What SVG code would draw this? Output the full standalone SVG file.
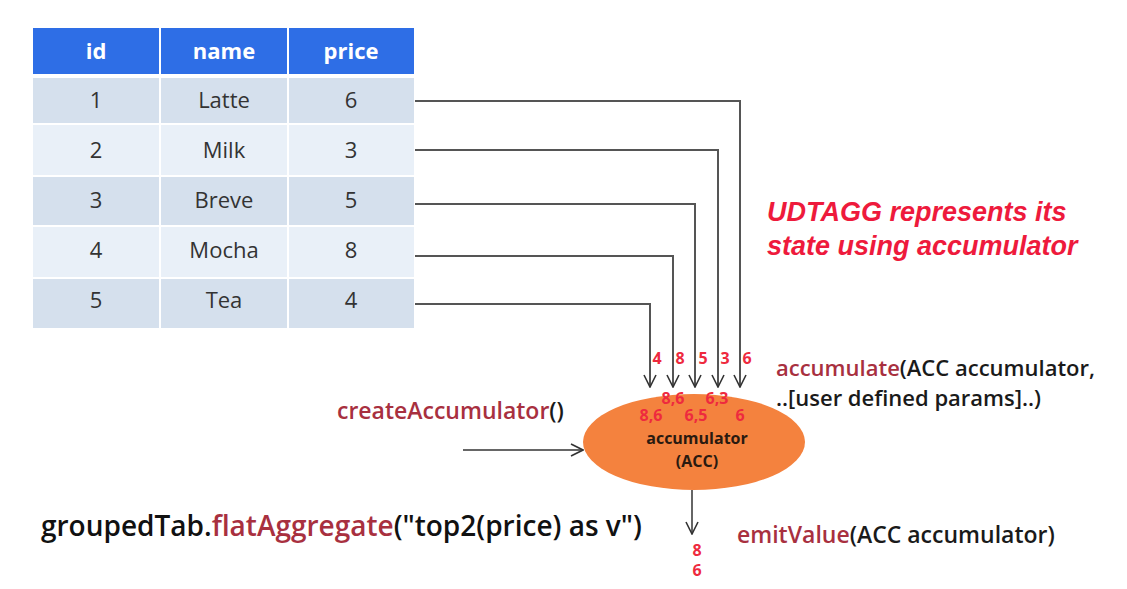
<svg xmlns="http://www.w3.org/2000/svg" width="1127" height="589" viewBox="0 0 1127 589">
<defs>
<marker id="ah" viewBox="0 0 14 14" refX="13" refY="7" markerWidth="14" markerHeight="14" markerUnits="userSpaceOnUse" orient="auto">
<path d="M1,1 L13,7 L1,13" fill="none" stroke="#333" stroke-width="1.6"/>
</marker>
<style>
.hd{fill:#2e6ee6}
.ra{fill:#d5e0ed}
.rb{fill:#e9f0f8}
.ht{font-family:"Open Sans",sans-serif;font-weight:700;font-size:22px;fill:#fff;text-anchor:middle}
.ct{font-family:"Open Sans",sans-serif;font-size:22px;fill:#333;text-anchor:middle}
.ln{fill:none;stroke:#555;stroke-width:2}
.ar{fill:none;stroke:#333;stroke-width:1.5;marker-end:url(#ah)}
.rd{font-family:"Open Sans",sans-serif;font-weight:700;font-size:16px;fill:#ee2a3e;text-anchor:middle}
.fn{font-family:"Open Sans",sans-serif;font-weight:600;font-size:23px;fill:#1a1a1a}
.fn2{font-size:22px}
.fr{fill:#a8303f}
.big{font-family:"Open Sans",sans-serif;font-weight:600;font-size:28px;fill:#111}
.ud{font-family:"Liberation Sans",Arial,sans-serif;font-weight:700;font-style:italic;font-size:27px;fill:#ee1a3c}
.ac{font-family:"Open Sans",sans-serif;font-weight:700;font-size:16px;fill:#2a1a10;text-anchor:middle}
</style>
</defs>
<rect width="1127" height="589" fill="#fff"/>
<g id="table">
<rect class="hd" x="33" y="28" width="126" height="46"/>
<rect class="hd" x="161" y="28" width="126" height="46"/>
<rect class="hd" x="289" y="28" width="125" height="46"/>
<text class="ht" x="96" y="59">id</text>
<text class="ht" x="224" y="59">name</text>
<text class="ht" x="351" y="59">price</text>
<g>
<rect class="ra" x="33" y="78" width="126" height="45"/><rect class="ra" x="161" y="78" width="126" height="45"/><rect class="ra" x="289" y="78" width="125" height="45"/>
<rect class="rb" x="33" y="125" width="126" height="50"/><rect class="rb" x="161" y="125" width="126" height="50"/><rect class="rb" x="289" y="125" width="125" height="50"/>
<rect class="ra" x="33" y="177" width="126" height="48"/><rect class="ra" x="161" y="177" width="126" height="48"/><rect class="ra" x="289" y="177" width="125" height="48"/>
<rect class="rb" x="33" y="227" width="126" height="50"/><rect class="rb" x="161" y="227" width="126" height="50"/><rect class="rb" x="289" y="227" width="125" height="50"/>
<rect class="ra" x="33" y="279" width="126" height="49"/><rect class="ra" x="161" y="279" width="126" height="49"/><rect class="ra" x="289" y="279" width="125" height="49"/>
</g>
<text class="ct" x="96" y="108">1</text><text class="ct" x="224" y="108">Latte</text><text class="ct" x="351" y="108">6</text>
<text class="ct" x="96" y="158">2</text><text class="ct" x="224" y="158">Milk</text><text class="ct" x="351" y="158">3</text>
<text class="ct" x="96" y="208">3</text><text class="ct" x="224" y="208">Breve</text><text class="ct" x="351" y="208">5</text>
<text class="ct" x="96" y="258">4</text><text class="ct" x="224" y="258">Mocha</text><text class="ct" x="351" y="258">8</text>
<text class="ct" x="96" y="308">5</text><text class="ct" x="224" y="308">Tea</text><text class="ct" x="351" y="308">4</text>
</g>
<g id="connectors">
<path class="ln" d="M415,101 H740 V387" marker-end="url(#ah)"/>
<path class="ln" d="M415,150 H718 V387" marker-end="url(#ah)"/>
<path class="ln" d="M415,204 H695 V387" marker-end="url(#ah)"/>
<path class="ln" d="M415,256 H673 V387" marker-end="url(#ah)"/>
<path class="ln" d="M415,304 H650 V387" marker-end="url(#ah)"/>
<path class="ar" d="M463,450 H583"/>
<path class="ar" d="M692,490 V534"/>
</g>
<g id="inputs">
<text class="rd" x="657" y="364">4</text>
<text class="rd" x="680" y="364">8</text>
<text class="rd" x="703" y="364">5</text>
<text class="rd" x="725" y="364">3</text>
<text class="rd" x="747" y="364">6</text>
</g>
<g id="accumulator">
<ellipse cx="694" cy="442" rx="111" ry="48" fill="#f4823e"/>
<text class="rd" x="673" y="404">8,6</text>
<text class="rd" x="717" y="404">6,3</text>
<text class="rd" x="651" y="421">8,6</text>
<text class="rd" x="696" y="421">6,5</text>
<text class="rd" x="740" y="421">6</text>
<text class="ac" x="697" y="444">accumulator</text>
<text class="ac" x="697" y="467">(ACC)</text>
</g>
<g id="output">
<text class="rd" x="697" y="556" font-size="14">8</text>
<text class="rd" x="697" y="576" font-size="14">6</text>
</g>
<g id="labels">
<text class="ud" x="767" y="221">UDTAGG represents its</text>
<text class="ud" x="767" y="255">state using accumulator</text>
<text class="fn fn2" x="776" y="376"><tspan class="fr">accumulate</tspan>(ACC accumulator,</text>
<text class="fn fn2" x="776" y="406">..[user defined params]..)</text>
<text class="fn" x="337" y="419"><tspan class="fr">createAccumulator</tspan>()</text>
<text class="big" x="41" y="536">groupedTab.<tspan class="fr">flatAggregate</tspan>("top2(price) as v")</text>
<text class="fn" x="737" y="543"><tspan class="fr">emitValue</tspan>(ACC accumulator)</text>
</g>
</svg>
